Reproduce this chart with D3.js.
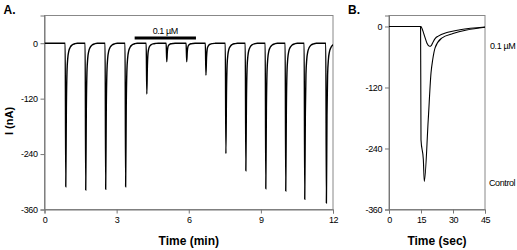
<!DOCTYPE html>
<html>
<head>
<meta charset="utf-8">
<script src="https://cdn.jsdelivr.net/npm/d3@7"></script>
<style>
	body { margin: 0; background: #fff; }
	svg { display: block; }
	.tick text { font-family: 'Liberation Sans', Arial, sans-serif; font-size: 9px; letter-spacing: -0.4px; fill: #000; }
	.tick line, .domain { stroke: #777; }
	.frame { fill: none; stroke: #888; stroke-width: 1; }
	.title { font-family: 'Liberation Sans', Arial, sans-serif; font-weight: bold; font-size: 12px; }
	.note { font-family: 'Liberation Sans', Arial, sans-serif; font-size: 9px; letter-spacing: -0.4px; }
</style>
</head>
<body>
<svg id="chart" width="517" height="250"></svg>
<script>
/* global d3 */

// panel A: pulse onsets (min) and peak currents (nA)
const pulseTimes = [0.86, 1.69, 2.52, 3.35, 4.23, 5.06, 5.89, 6.69, 7.52, 8.35, 9.18, 10.01, 10.80, 11.70];
const pulsePeaks = [-311, -318, -316, -311, -110, -40, -40, -69, -239, -276, -315, -320, -338, -346];
// shape of one response: [min after onset, fraction of peak]
const pulseShape = [[0, 0], [0.025, 1], [0.05, 0.45], [0.075, 0.2], [0.11, 0.1], [0.15, 0.055], [0.21, 0.028], [0.29, 0.012], [0.4, 0.004], [0.5, 0]];
const drugBar = [3.75, 6.3];
const ticksA = [0, 3, 6, 9, 12];

// panel B: single responses [sec, nA]
const controlTrace = [[0, 0], [14.8, 0], [15.0, -223], [16.1, -262], [16.55, -305], [18.4, -183], [19.7, -91], [20.5, -65], [21.6, -42], [24.7, -23], [30, -14], [36.4, -7], [45, -1.5]];
const drugTrace = [[0, 0], [15, 0], [15.7, -6.5], [16.9, -22], [17.8, -33], [19.0, -39], [19.9, -37], [20.8, -29.5], [21.8, -23], [23.1, -19], [27.1, -12], [33.3, -6.5], [45, -1]];
const ticksB = [0, 15, 30, 45];
const ticksY = [0, -120, -240, -360];

const svg = d3.select('#chart');

const panels = {
	a: {left: 44.5, right: 333, top: 15.5, bottom: 209.5, yTop: 60, xMax: 12, xTicks: ticksA, title: 'Time (min)', letter: 'A.'},
	b: {left: 389, right: 485, top: 15.5, bottom: 209.5, yTop: 21.6, xMax: 45, xTicks: ticksB, title: 'Time (sec)', letter: 'B.'},
};

function drawPanel(p, id) {
	const x = d3.scaleLinear().domain([0, p.xMax]).range([p.left, p.right]);
	const y = d3.scaleLinear().domain([-360, p.yTop]).range([p.bottom, p.top]);

	svg.append('rect')
		.attr('class', 'frame')
		.attr('x', p.left)
		.attr('y', p.top)
		.attr('width', p.right - p.left)
		.attr('height', p.bottom - p.top);

	svg.append('g')
		.attr('transform', `translate(0,${p.bottom})`)
		.call(d3.axisBottom(x).tickValues(p.xTicks).tickSize(4).tickPadding(3).tickFormat(d3.format('d')));

	svg.append('g')
		.attr('transform', `translate(${p.left},0)`)
		.call(d3.axisLeft(y).tickValues(ticksY).tickSize(4).tickPadding(3).tickFormat(d => d === 0 ? '0' : `-${-d}`));

	svg.append('clipPath')
		.attr('id', `clip-${id}`)
		.append('rect')
		.attr('x', p.left)
		.attr('y', p.top)
		.attr('width', p.right - p.left)
		.attr('height', p.bottom - p.top);

	svg.append('text')
		.attr('class', 'title')
		.attr('x', (p.left + p.right) / 2)
		.attr('y', 245)
		.attr('text-anchor', 'middle')
		.text(p.title);

	svg.append('text')
		.attr('class', 'title')
		.attr('x', p.left - 41)
		.attr('y', 14)
		.text(p.letter);

	return {x, y};
}

// panel A
const sa = drawPanel(panels.a, 'a');

let traceA = [[0, 0]];
pulseTimes.forEach((t0, i) => {
	pulseShape.forEach(s => {
		traceA.push([t0 + s[0], pulsePeaks[i] * s[1]]);
	});
});
traceA.push([12.5, 0]);

svg.append('path')
	.datum(traceA)
	.attr('clip-path', 'url(#clip-a)')
	.attr('fill', 'none')
	.attr('stroke', '#000')
	.attr('stroke-width', 1.4)
	.attr('d', d3.line().x(d => sa.x(d[0])).y(d => sa.y(d[1])).curve(d3.curveMonotoneX));

svg.append('line')
	.attr('x1', sa.x(drugBar[0]))
	.attr('x2', sa.x(drugBar[1]))
	.attr('y1', 38)
	.attr('y2', 38)
	.attr('stroke', '#000')
	.attr('stroke-width', 3);

svg.append('text')
	.attr('class', 'note')
	.attr('x', sa.x((drugBar[0] + drugBar[1]) / 2))
	.attr('y', 34)
	.attr('text-anchor', 'middle')
	.text('0.1 µM');

svg.append('text')
	.attr('class', 'title')
	.attr('transform', 'translate(12.5,121) rotate(-90)')
	.attr('text-anchor', 'middle')
	.style('font-size', '11px')
	.text('I (nA)');

// panel B
const sb = drawPanel(panels.b, 'b');
const lineB = d3.line().x(d => sb.x(d[0])).y(d => sb.y(d[1])).curve(d3.curveMonotoneX);

[controlTrace, drugTrace].forEach(tr => {
	svg.append('path')
		.datum(tr)
		.attr('clip-path', 'url(#clip-b)')
		.attr('fill', 'none')
		.attr('stroke', '#000')
		.attr('stroke-width', 1.1)
		.attr('d', lineB);
});

svg.append('text')
	.attr('class', 'note')
	.attr('x', 490)
	.attr('y', 49)
	.text('0.1 µM');

svg.append('text')
	.attr('class', 'note')
	.attr('x', 489)
	.attr('y', 186)
	.text('Control');
</script>
</body>
</html>
